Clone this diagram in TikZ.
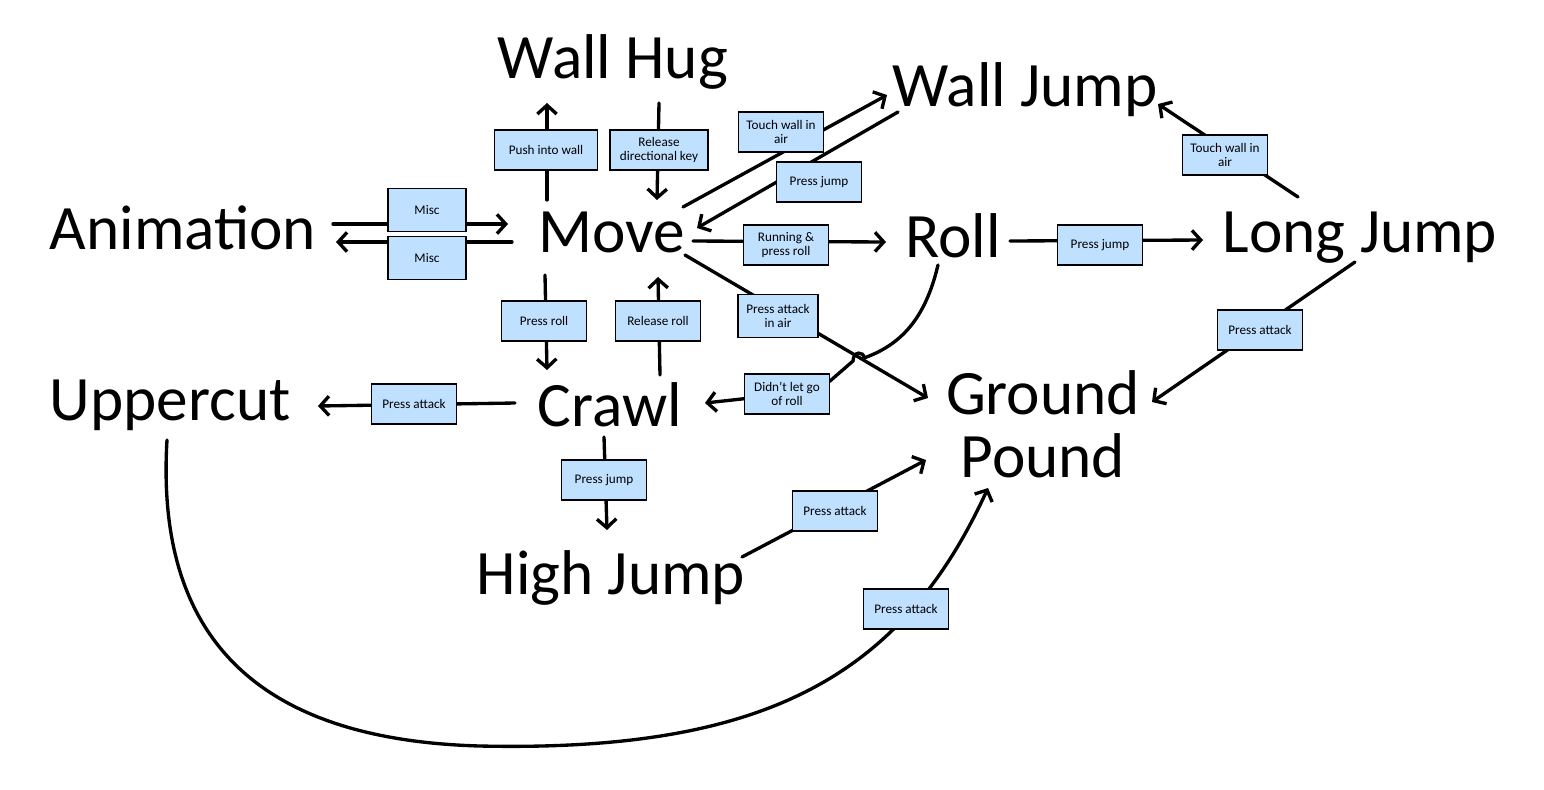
\documentclass[tikz,border=0pt]{standalone}
\usepackage{fontspec}
\setmainfont{Carlito}
\usetikzlibrary{arrows.meta}
\definecolor{lblue}{RGB}{192,224,255}
\pgfdeclarelayer{bg}
\pgfsetlayers{bg,main}
\begin{document}
\begin{tikzpicture}[x=0.02cm,y=-0.02cm,
  st/.style={font=\fontsize{36}{36}\selectfont, inner sep=0pt},
  lbl/.style={draw=black, line width=1.1pt, fill=lblue, font=\fontsize{7.5}{8}\selectfont,
    align=center, minimum width=1.7cm, minimum height=0.8cm, inner sep=1pt},
  arr/.style={line width=1.9pt, line cap=round, -{Straight Barb[length=5pt,width=11pt]}}]
\useasboundingbox (0,0) rectangle (1544,789);
% states
\node[st] (wallhug) at (613,62) {Wall Hug};
\node[st] (walljump) at (1025,90) {Wall Jump};
\node[st] (anim) at (183,228) {Animation};
\node[st] (move) at (612,232) {Move};
\node[st] (roll) at (953,236) {Roll};
\node[st] (longjump) at (1360,238) {Long Jump};
\node[st] (upper) at (170,405) {Uppercut};
\node[st] (crawl) at (610,405) {Crawl};
\node[st, font=\fontsize{36}{36}\selectfont, align=center] (gp) at (1043,424) {Ground\\Pound};
\node[st] (highjump) at (611,578) {High Jump};
% labels
\node[lbl, minimum width=2.06cm] (b1) at (546,150) {Push into wall};
\node[lbl, minimum width=1.96cm] (b2) at (659,150) {Release\\directional key};
\node[lbl] (b3) at (781,132) {Touch wall in\\air};
\node[lbl] (b4) at (819,182) {Press jump};
\node[lbl, minimum width=1.56cm, minimum height=0.86cm] (b5) at (427,210) {Misc};
\node[lbl, minimum width=1.56cm, minimum height=0.86cm] (b6) at (427,258) {Misc};
\node[lbl] (b7) at (786,245) {Running \&\\press roll};
\node[lbl] (b8) at (1100,245) {Press jump};
\node[lbl] (b9) at (1225,155) {Touch wall in\\air};
\node[lbl] (b10) at (544,321) {Press roll};
\node[lbl] (b11) at (658,321) {Release roll};
\node[lbl, minimum width=1.6cm, minimum height=0.86cm] (b12) at (778,316) {Press attack\\in air};
\node[lbl] (b13) at (1260,330) {Press attack};
\node[lbl] (b14) at (414,404) {Press attack};
\node[lbl] (rollbox) at (787,394) {Didn't let go\\of roll};
\node[lbl] (b16) at (604,480) {Press jump};
\node[lbl] (b17) at (835,511) {Press attack};
\node[lbl] (b18) at (906,609) {Press attack};
% connectors
\begin{pgfonlayer}{bg}
\draw[arr] ([shift={(150,-4)}]anim.center) -- ([shift={(-104,-8)}]move.center);
\draw[arr] ([shift={(-100,10)}]move.center) -- ([shift={(153,14)}]anim.center);
\draw[arr] ([shift={(-65,-32)}]move.center) -- ([shift={(-66,41)}]wallhug.center);
\draw[arr] ([shift={(46,41)}]wallhug.center) -- ([shift={(45,-32)}]move.center);
\draw[arr] ([shift={(71,-25)}]move.center) -- ([shift={(-138,5)}]walljump.center);
\draw[arr] ([shift={(-127,22)}]walljump.center) -- ([shift={(85,-4)}]move.center);
\draw[arr] ([shift={(81,9)}]move.center) -- ([shift={(-67,6)}]roll.center);
\draw[arr] ([shift={(57,5)}]roll.center) -- ([shift={(-157,2)}]longjump.center);
\draw[arr] ([shift={(-62,-41)}]longjump.center) -- ([shift={(133,14)}]walljump.center);
\draw[arr] ([shift={(73,23)}]move.center) -- ([shift={(-115,-26)}]gp.center);
\draw[arr] ([shift={(-5,24)}]longjump.center) -- ([shift={(109,-22)}]gp.center);
\draw[arr] ([shift={(-67,43)}]move.center) -- ([shift={(-63,-35)}]crawl.center);
\draw[arr] ([shift={(50,-30)}]crawl.center) -- ([shift={(46,45)}]move.center);
\draw[arr] ([shift={(-95,-2)}]crawl.center) -- ([shift={(148,1)}]upper.center);
\draw[arr] ([shift={(-6,32)}]crawl.center) -- ([shift={(-4,-48)}]highjump.center);
\draw[arr] ([shift={(131,-21)}]highjump.center) -- ([shift={(-117,36)}]gp.center);
\draw[arr] ([shift={(-15,29)}]roll.center) .. controls (925,320) and (900,345) .. (864,358)
  .. controls (864,351) and (853,351) .. (853,361) -- (830,381) -- (rollbox.center)
  -- ([shift={(95,-2)}]crawl.center);
\draw[arr] ([shift={(-3,35)}]upper.center) .. controls (155,640) and (260,740) .. (480,746)
  .. controls (760,752) and (900,680) .. ([shift={(-55,64)}]gp.center);
\end{pgfonlayer}
\end{tikzpicture}
\end{document}
